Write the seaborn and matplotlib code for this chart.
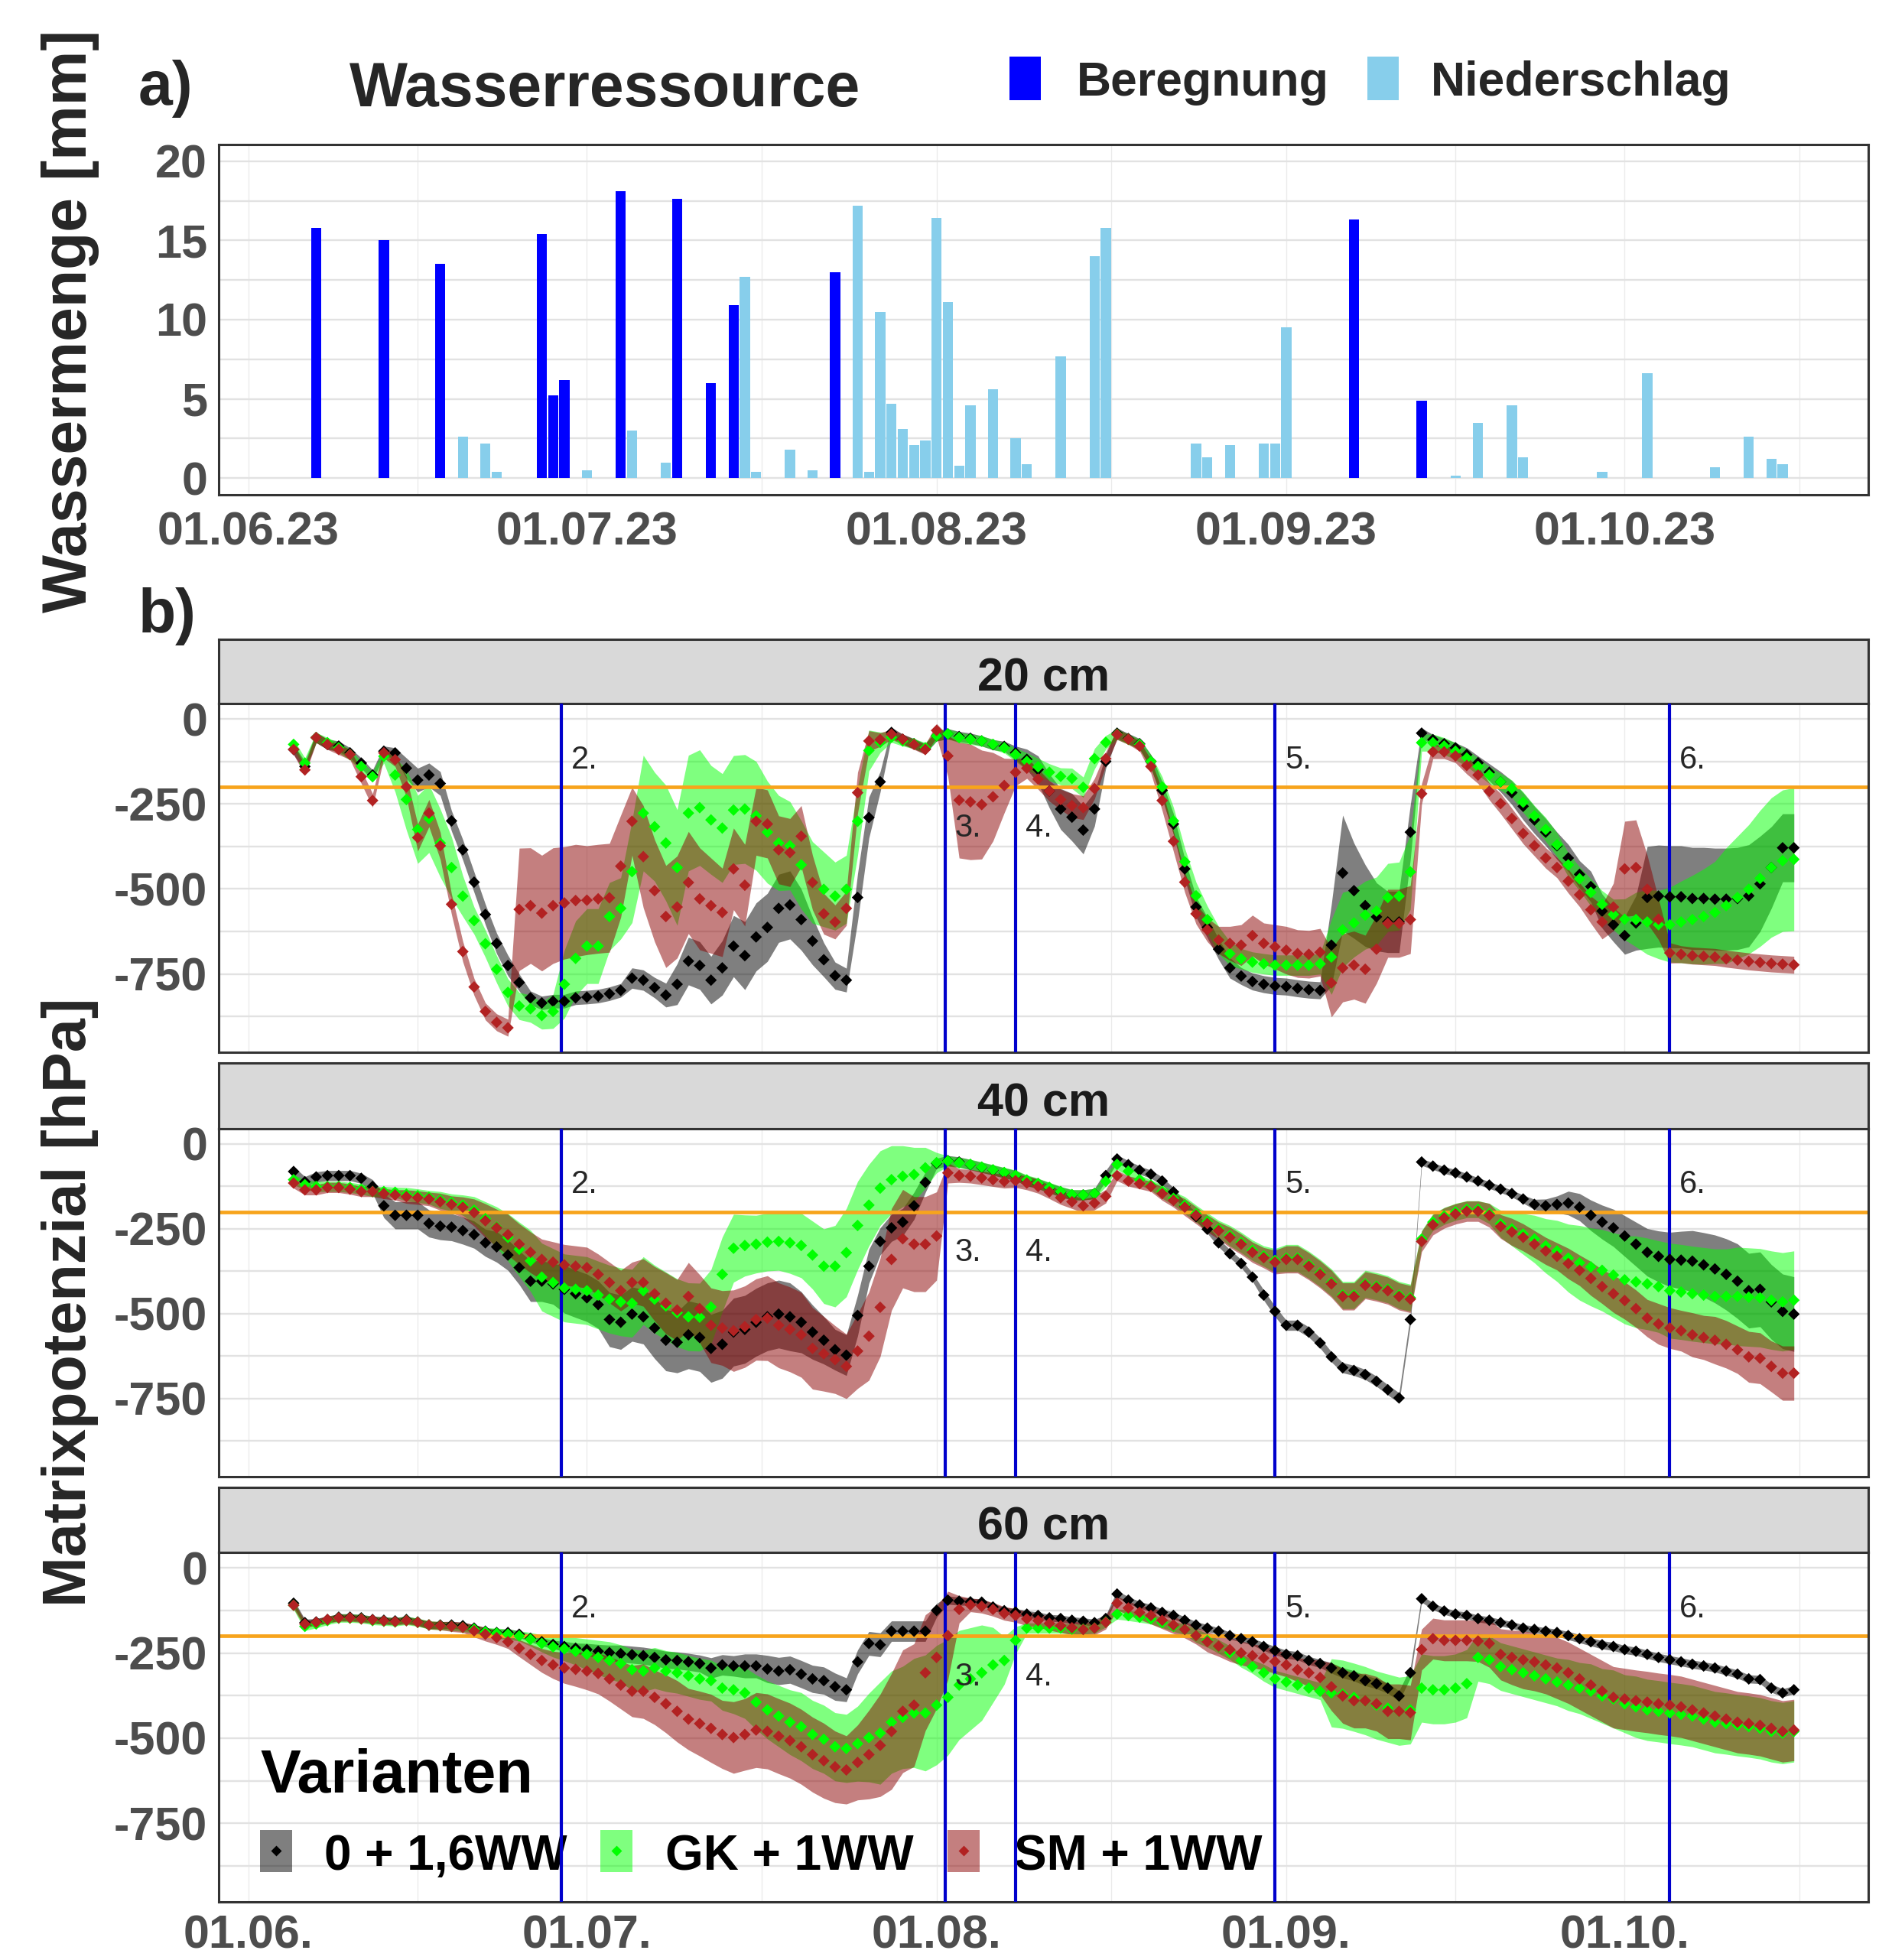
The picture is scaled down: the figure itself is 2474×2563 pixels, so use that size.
import numpy as np
import pandas as pd
import matplotlib
matplotlib.use("Agg")
import matplotlib.pyplot as plt
import matplotlib.dates as mdates
from matplotlib.patches import Rectangle
from matplotlib.lines import Line2D
import seaborn as sns

# ++++++++++++++++++++++++++++++++++++++++++++++++++++ a) Wasserressource [mm]
beregnung_dates = ["2023-06-07", "2023-06-13", "2023-06-18", "2023-06-27", "2023-06-28",
                   "2023-06-29", "2023-07-04", "2023-07-09", "2023-07-12", "2023-07-14",
                   "2023-07-23", "2023-09-07", "2023-09-13"]
beregnung_mm = [15.8, 15.0, 13.5, 15.4, 5.2, 6.2, 18.1, 17.6, 6.0, 10.9, 13.0, 16.3, 4.9]

niederschlag_dates = ["2023-06-20", "2023-06-22", "2023-06-23", "2023-07-01", "2023-07-05",
                      "2023-07-08", "2023-07-15", "2023-07-16", "2023-07-19", "2023-07-21",
                      "2023-07-25", "2023-07-26", "2023-07-27", "2023-07-28", "2023-07-29",
                      "2023-07-30", "2023-07-31", "2023-08-01", "2023-08-02", "2023-08-03",
                      "2023-08-04", "2023-08-06", "2023-08-08", "2023-08-09", "2023-08-12",
                      "2023-08-15", "2023-08-16", "2023-08-24", "2023-08-25", "2023-08-27",
                      "2023-08-30", "2023-08-31", "2023-09-01", "2023-09-16", "2023-09-18",
                      "2023-09-21", "2023-09-22", "2023-09-29", "2023-10-03", "2023-10-09",
                      "2023-10-12", "2023-10-14", "2023-10-15"]
niederschlag_mm = [2.6, 2.2, 0.4, 0.5, 3.0, 1.0, 12.7, 0.4, 1.8, 0.5,
                   17.2, 0.4, 10.5, 4.7, 3.1, 2.1, 2.4, 16.4, 11.1, 0.8,
                   4.6, 5.6, 2.5, 0.9, 7.7, 14.0, 15.8, 2.2, 1.3, 2.1,
                   2.2, 2.2, 9.5, 0.15, 3.5, 4.6, 1.3, 0.4, 6.6, 0.7,
                   2.6, 1.2, 0.9]

# ++++++++++++++++++++++++++++++++++++++++++++++++++++ b) Matrixpotenzial [hPa], 05.06. - 16.10.
days = pd.date_range("2023-06-05", "2023-10-16", freq="D")
variants = ["0 + 1,6WW", "GK + 1WW", "SM + 1WW"]
depths = ["20 cm", "40 cm", "60 cm"]

# 20 cm
b20 = [-90, -140, -55, -75, -80, -100, -130, -165, -95, -100,
       -145, -180, -165, -190, -300, -385, -480, -575, -660, -725,
       -775, -820, -835, -830, -830, -820, -818, -815, -808, -798,
       -762, -768, -790, -812, -780, -712, -725, -768, -732, -668,
       -696, -641, -613, -557, -547, -590, -653, -708, -755, -768,
       -525, -290, -185, -40, -60, -73, -88, -50, -44, -52,
       -57, -65, -76, -81, -100, -119, -149, -212, -265, -289,
       -327, -265, -125, -42, -58, -73, -125, -210, -309, -441,
       -553, -613, -677, -732, -756, -772, -780, -785, -787, -792,
       -796, -798, -665, -453, -505, -549, -582, -597, -597, -333,
       -42, -61, -73, -85, -105, -129, -157, -185, -217, -257,
       -297, -333, -373, -409, -457, -493, -565, -605, -637, -600,
       -525, -521, -523, -523, -528, -528, -530, -530, -528, -520,
       -485, -437, -379, -379]
sd_b20 = [15, 15, 15, 15, 15, 15, 15, 15, 15, 15,
          30, 35, 35, 35, 30, 30, 30, 30, 30, 30,
          25, 20, 20, 20, 20, 20, 20, 20, 20, 20,
          30, 30, 30, 35, 60, 70, 70, 70, 80, 90,
          100, 100, 100, 100, 100, 90, 70, 50, 40, 35,
          70, 60, 30, 15, 15, 15, 15, 15, 15, 15,
          15, 15, 15, 15, 20, 30, 40, 50, 60, 70,
          70, 50, 20, 15, 15, 15, 20, 25, 30, 30,
          30, 30, 30, 30, 25, 25, 25, 25, 25, 25,
          25, 25, 120, 170, 140, 120, 100, 90, 90, 80,
          15, 15, 15, 15, 20, 20, 25, 30, 35, 40,
          40, 40, 40, 40, 40, 45, 50, 50, 55, 80,
          150, 150, 150, 150, 150, 150, 150, 150, 150, 150,
          140, 120, 100, 100]
g20 = [-75, -130, -55, -70, -85, -105, -140, -170, -110, -165,
       -237, -325, -293, -365, -437, -521, -593, -661, -736, -804,
       -844, -852, -872, -860, -780, -704, -668, -668, -581, -557,
       -449, -277, -317, -365, -437, -277, -261, -297, -321, -268,
       -265, -285, -333, -365, -373, -429, -481, -501, -521, -501,
       -301, -93, -69, -54, -65, -73, -85, -50, -44, -55,
       -60, -65, -75, -85, -105, -125, -141, -157, -169, -175,
       -201, -117, -69, -45, -60, -75, -125, -200, -300, -420,
       -520, -590, -650, -690, -705, -715, -720, -724, -724, -724,
       -724, -720, -700, -620, -600, -577, -565, -525, -521, -450,
       -70, -70, -80, -95, -115, -140, -165, -185, -205, -245,
       -285, -325, -370, -429, -470, -510, -545, -575, -589, -590,
       -597, -605, -605, -597, -590, -581, -569, -549, -525, -501,
       -469, -437, -417, -413]
sd_g20 = [15, 15, 15, 15, 15, 15, 15, 15, 20, 50,
          90, 100, 100, 100, 90, 60, 40, 40, 40, 40,
          40, 40, 40, 50, 100, 110, 110, 110, 100, 90,
          150, 170, 160, 170, 170, 170, 170, 160, 160, 160,
          160, 160, 150, 140, 130, 130, 120, 110, 100, 100,
          100, 60, 30, 15, 15, 15, 15, 15, 15, 15,
          15, 15, 15, 15, 20, 25, 25, 25, 25, 30,
          30, 30, 20, 15, 15, 15, 20, 30, 40, 40,
          40, 40, 40, 35, 30, 30, 30, 30, 30, 30,
          30, 30, 110, 110, 100, 100, 100, 100, 100, 110,
          25, 25, 25, 25, 25, 25, 25, 25, 25, 30,
          30, 35, 35, 35, 35, 40, 40, 45, 60, 80,
          95, 100, 110, 120, 130, 140, 150, 170, 180, 190,
          200, 205, 208, 210]
r20 = [-90, -150, -55, -75, -90, -105, -170, -240, -100, -120,
       -200, -349, -277, -373, -545, -684, -788, -860, -892, -908,
       -560, -549, -571, -549, -541, -534, -533, -529, -526, -433,
       -301, -405, -505, -581, -553, -481, -529, -549, -569, -441,
       -489, -301, -309, -385, -393, -345, -481, -573, -597, -557,
       -217, -65, -61, -45, -60, -75, -90, -34, -109, -239,
       -244, -252, -229, -196, -157, -145, -177, -212, -237, -255,
       -261, -205, -117, -46, -60, -80, -140, -240, -360, -480,
       -573, -620, -650, -660, -665, -637, -660, -670, -680, -690,
       -692, -686, -776, -732, -724, -736, -677, -601, -601, -590,
       -220, -97, -97, -109, -137, -165, -213, -249, -293, -337,
       -373, -409, -437, -477, -517, -561, -597, -553, -441, -437,
       -501, -589, -688, -692, -696, -698, -700, -705, -709, -713,
       -716, -719, -721, -723]
sd_r20 = [15, 15, 15, 15, 15, 15, 20, 20, 15, 20,
          30, 40, 40, 40, 30, 30, 25, 25, 25, 25,
          180, 170, 170, 170, 165, 165, 160, 160, 160, 150,
          100, 150, 150, 150, 150, 150, 150, 140, 130, 120,
          120, 100, 100, 100, 100, 90, 80, 60, 50, 50,
          60, 30, 20, 15, 15, 15, 15, 20, 60, 170,
          170, 160, 130, 80, 40, 30, 30, 30, 30, 35,
          35, 30, 20, 15, 15, 15, 20, 30, 30, 30,
          30, 35, 40, 50, 60, 60, 60, 65, 70, 70,
          70, 70, 100, 100, 100, 100, 100, 100, 100, 100,
          30, 20, 20, 20, 25, 25, 25, 30, 30, 30,
          30, 30, 30, 35, 35, 40, 50, 70, 140, 140,
          100, 60, 30, 25, 25, 25, 25, 25, 25, 25,
          25, 25, 25, 25]

# 40 cm
b40 = [-81, -111, -97, -93, -93, -93, -101, -125, -182, -210,
       -210, -210, -234, -242, -245, -255, -267, -291, -303, -327,
       -364, -404, -404, -412, -428, -441, -453, -473, -517, -525,
       -501, -509, -542, -578, -584, -562, -570, -602, -590, -554,
       -546, -525, -509, -501, -509, -525, -554, -578, -606, -622,
       -505, -360, -287, -247, -230, -182, -113, -57, -49, -53,
       -61, -69, -77, -85, -93, -108, -117, -129, -141, -150,
       -150, -146, -93, -44, -61, -77, -89, -109, -141, -182,
       -214, -251, -291, -323, -352, -392, -445, -493, -534, -534,
       -554, -586, -627, -659, -667, -679, -699, -724, -748, -517,
       -53, -65, -77, -85, -97, -109, -121, -133, -146, -162,
       -178, -182, -178, -174, -186, -210, -230, -247, -271, -295,
       -319, -331, -340, -342, -345, -356, -368, -384, -404, -432,
       -428, -465, -493, -501]
sd_b40 = [15, 15, 15, 15, 15, 15, 15, 20, 35, 40,
          40, 40, 40, 40, 40, 40, 40, 40, 45, 45,
          50, 60, 60, 60, 70, 70, 70, 70, 80, 80,
          80, 80, 90, 90, 90, 100, 100, 100, 100, 100,
          100, 100, 100, 100, 100, 90, 80, 70, 60, 60,
          60, 50, 40, 40, 40, 40, 30, 15, 15, 15,
          15, 15, 15, 15, 15, 15, 15, 15, 15, 15,
          15, 15, 15, 12, 12, 12, 12, 12, 12, 12,
          12, 12, 12, 12, 12, 12, 15, 15, 15, 15,
          15, 15, 15, 15, 15, 15, 15, 15, 15, 15,
          10, 10, 10, 10, 10, 10, 10, 10, 10, 12,
          15, 20, 25, 35, 40, 45, 50, 55, 60, 65,
          70, 75, 80, 85, 90, 95, 100, 105, 110, 110,
          110, 110, 110, 110]
g40 = [-105, -120, -125, -125, -125, -128, -133, -140, -140, -142,
       -148, -152, -157, -165, -172, -180, -195, -220, -245, -275,
       -310, -344, -392, -408, -424, -428, -432, -445, -457, -465,
       -469, -432, -457, -477, -497, -509, -510, -480, -384, -307,
       -299, -295, -289, -287, -291, -299, -327, -360, -360, -320,
       -240, -180, -130, -105, -95, -90, -70, -55, -50, -55,
       -60, -68, -76, -84, -92, -106, -116, -128, -140, -149,
       -150, -146, -110, -60, -80, -105, -121, -140, -160, -180,
       -205, -228, -250, -270, -290, -313, -330, -343, -336, -336,
       -356, -380, -408, -445, -445, -412, -419, -428, -445, -453,
       -280, -230, -212, -200, -192, -192, -205, -235, -250, -265,
       -280, -300, -315, -336, -350, -362, -372, -386, -400, -406,
       -412, -420, -432, -436, -441, -445, -449, -449, -449, -451,
       -453, -460, -465, -460]
sd_g40 = [15, 15, 15, 15, 15, 15, 15, 15, 15, 15,
          20, 20, 20, 25, 25, 30, 40, 50, 60, 70,
          80, 90, 100, 100, 100, 100, 100, 100, 100, 100,
          100, 100, 100, 100, 100, 100, 100, 110, 110, 100,
          90, 85, 85, 85, 90, 95, 100, 110, 120, 130,
          130, 120, 110, 100, 90, 80, 60, 30, 15, 15,
          15, 15, 15, 15, 15, 15, 15, 15, 15, 15,
          15, 15, 15, 15, 15, 15, 15, 20, 20, 25,
          25, 25, 25, 30, 30, 30, 30, 35, 40, 40,
          40, 40, 40, 40, 40, 40, 40, 40, 40, 40,
          25, 25, 25, 25, 25, 25, 30, 40, 50, 60,
          70, 80, 90, 100, 110, 115, 120, 125, 130, 135,
          135, 135, 140, 140, 140, 140, 140, 140, 145, 145,
          145, 145, 145, 145]
r40 = [-115, -135, -135, -128, -128, -133, -140, -140, -146, -150,
       -155, -158, -162, -170, -178, -186, -202, -226, -247, -267,
       -295, -319, -340, -348, -356, -360, -364, -384, -408, -432,
       -408, -408, -441, -469, -489, -449, -485, -534, -542, -550,
       -538, -517, -513, -534, -546, -562, -602, -618, -635, -655,
       -610, -566, -481, -340, -279, -295, -295, -271, -85, -93,
       -95, -100, -105, -110, -108, -115, -125, -141, -158, -170,
       -182, -174, -154, -93, -109, -117, -125, -146, -166, -186,
       -210, -234, -255, -275, -295, -319, -335, -348, -340, -340,
       -360, -384, -412, -449, -449, -416, -423, -432, -449, -457,
       -287, -238, -218, -206, -198, -198, -210, -243, -259, -275,
       -295, -315, -331, -352, -372, -396, -420, -441, -461, -485,
       -513, -530, -542, -550, -562, -570, -578, -590, -606, -627,
       -631, -655, -675, -675]
sd_r40 = [15, 15, 15, 15, 15, 15, 15, 15, 15, 15,
          20, 20, 20, 25, 25, 30, 40, 50, 55, 60,
          60, 60, 60, 60, 60, 60, 60, 60, 60, 60,
          60, 70, 80, 90, 90, 100, 100, 110, 110, 120,
          120, 120, 125, 125, 125, 125, 120, 110, 100, 95,
          110, 130, 145, 150, 145, 140, 140, 130, 30, 20,
          20, 20, 20, 20, 20, 20, 20, 20, 20, 20,
          20, 20, 20, 15, 15, 15, 15, 20, 20, 25,
          25, 25, 25, 30, 30, 30, 30, 35, 40, 40,
          40, 40, 40, 40, 40, 40, 40, 40, 40, 40,
          30, 30, 30, 30, 30, 30, 35, 35, 40, 40,
          40, 40, 40, 45, 45, 50, 50, 55, 55, 55,
          55, 60, 60, 60, 65, 65, 70, 70, 70, 75,
          75, 75, 80, 80]

# 60 cm
b60 = [-104, -161, -159, -152, -145, -145, -147, -152, -154, -156,
       -152, -159, -168, -168, -168, -170, -177, -186, -190, -190,
       -195, -207, -217, -225, -231, -236, -240, -245, -249, -252,
       -255, -258, -263, -270, -272, -276, -281, -294, -285, -288,
       -288, -288, -297, -303, -299, -312, -326, -331, -349, -358,
       -276, -222, -226, -186, -186, -186, -186, -125, -95, -98,
       -100, -101, -115, -126, -130, -136, -140, -147, -149, -154,
       -157, -161, -149, -77, -95, -109, -118, -131, -140, -154,
       -168, -177, -186, -199, -208, -217, -231, -243, -254, -258,
       -272, -281, -294, -308, -317, -331, -340, -353, -376, -308,
       -91, -113, -127, -136, -140, -149, -154, -161, -168, -177,
       -181, -186, -190, -199, -208, -217, -226, -231, -240, -245,
       -254, -263, -270, -276, -283, -288, -294, -303, -312, -326,
       -328, -353, -367, -358]
sd_b60 = [10, 10, 10, 10, 10, 10, 10, 10, 10, 10,
          10, 10, 10, 10, 10, 10, 10, 10, 10, 10,
          10, 10, 12, 12, 15, 15, 18, 20, 22, 25,
          25, 25, 25, 25, 25, 25, 25, 30, 30, 30,
          35, 35, 40, 40, 40, 40, 40, 40, 40, 35,
          35, 35, 35, 30, 30, 30, 30, 20, 12, 12,
          10, 10, 10, 10, 10, 10, 10, 10, 10, 10,
          10, 10, 10, 10, 10, 10, 10, 10, 10, 10,
          10, 10, 10, 10, 10, 10, 12, 12, 12, 12,
          12, 12, 15, 15, 15, 15, 15, 15, 15, 15,
          10, 10, 10, 10, 10, 10, 10, 10, 10, 10,
          10, 10, 10, 12, 12, 12, 12, 12, 12, 12,
          12, 12, 12, 12, 12, 12, 12, 12, 12, 12,
          12, 12, 12, 12]
g60 = [-110, -172, -165, -155, -148, -148, -150, -155, -157, -159,
       -155, -160, -168, -170, -172, -175, -180, -188, -192, -195,
       -200, -210, -222, -232, -238, -245, -254, -263, -272, -281,
       -299, -303, -294, -303, -308, -317, -326, -331, -353, -358,
       -367, -394, -417, -435, -453, -466, -489, -503, -525, -530,
       -516, -498, -485, -453, -439, -426, -426, -403, -380, -344,
       -326, -308, -285, -272, -213, -177, -177, -177, -177, -180,
       -180, -177, -159, -136, -140, -145, -150, -161, -172, -181,
       -199, -213, -231, -249, -272, -290, -308, -326, -335, -344,
       -353, -362, -367, -371, -380, -390, -403, -412, -421, -417,
       -353, -358, -358, -353, -340, -263, -270, -290, -299, -308,
       -317, -326, -335, -344, -353, -362, -376, -385, -399, -408,
       -417, -421, -426, -430, -435, -444, -453, -457, -462, -466,
       -471, -480, -485, -480]
sd_g60 = [12, 12, 12, 12, 12, 12, 12, 12, 12, 12,
          12, 12, 12, 12, 12, 12, 12, 12, 15, 15,
          15, 20, 25, 30, 35, 40, 45, 50, 55, 55,
          60, 60, 60, 60, 60, 60, 60, 60, 65, 70,
          75, 80, 85, 90, 95, 100, 100, 100, 100, 100,
          110, 130, 150, 150, 150, 160, 170, 175, 170, 160,
          150, 140, 110, 70, 40, 15, 15, 15, 15, 15,
          15, 15, 15, 15, 15, 15, 15, 15, 15, 15,
          20, 20, 20, 20, 20, 20, 25, 25, 25, 25,
          25, 25, 100, 100, 100, 100, 100, 100, 100, 100,
          100, 100, 100, 100, 100, 70, 70, 70, 70, 70,
          70, 70, 70, 75, 75, 80, 80, 85, 85, 90,
          90, 90, 90, 90, 90, 90, 90, 90, 90, 90,
          90, 90, 90, 90]
r60 = [-110, -165, -160, -152, -147, -147, -150, -153, -156, -158,
       -155, -160, -168, -170, -172, -175, -185, -195, -205, -217,
       -236, -254, -272, -285, -294, -298, -303, -310, -326, -344,
       -362, -362, -380, -399, -421, -444, -457, -471, -489, -498,
       -489, -476, -480, -494, -507, -525, -548, -566, -584, -593,
       -571, -548, -521, -480, -421, -403, -308, -263, -199, -122,
       -109, -113, -122, -134, -140, -150, -155, -163, -170, -176,
       -181, -177, -160, -104, -118, -131, -140, -154, -168, -181,
       -199, -217, -230, -240, -250, -258, -265, -275, -285, -299,
       -308, -322, -349, -376, -390, -390, -399, -421, -421, -425,
       -240, -208, -213, -213, -213, -215, -222, -254, -263, -270,
       -276, -285, -294, -308, -326, -344, -362, -380, -385, -390,
       -394, -399, -403, -408, -417, -426, -435, -444, -453, -457,
       -462, -471, -480, -476]
sd_r60 = [10, 10, 10, 10, 10, 10, 10, 10, 10, 10,
          10, 10, 12, 12, 15, 15, 18, 20, 20, 20,
          25, 30, 35, 40, 45, 50, 55, 60, 65, 70,
          75, 80, 80, 85, 90, 90, 95, 100, 100, 105,
          105, 110, 110, 110, 110, 110, 110, 110, 105, 100,
          110, 130, 150, 170, 180, 180, 170, 150, 130, 40,
          20, 20, 20, 20, 20, 20, 20, 20, 20, 20,
          20, 20, 20, 20, 20, 20, 25, 25, 25, 25,
          25, 30, 30, 35, 35, 35, 35, 35, 35, 35,
          40, 50, 70, 80, 80, 80, 80, 80, 80, 80,
          60, 60, 60, 60, 60, 60, 70, 75, 80, 85,
          85, 85, 90, 90, 90, 90, 90, 90, 90, 90,
          90, 90, 90, 90, 90, 90, 90, 90, 90, 90,
          90, 90, 90, 90]

# Bewässerungstermine (Linien) und Beschriftung
event_times = ["2023-06-28 17:00", "2023-08-01 18:00", "2023-08-08 00:00",
               "2023-08-31 00:00", "2023-10-05 00:00"]
event_labels = ["2.", "3.", "4.", "5.", "6."]
event_label_y = [-145, -345, -345, -145, -145]
threshold = -200

series = {
    "20 cm": [(b20, sd_b20), (g20, sd_g20), (r20, sd_r20)],
    "40 cm": [(b40, sd_b40), (g40, sd_g40), (r40, sd_r40)],
    "60 cm": [(b60, sd_b60), (g60, sd_g60), (r60, sd_r60)],
}
for d in depths:
    for m, s in series[d]:
        assert len(m) == len(days) and len(s) == len(days), (d, len(m), len(s))

ribbon_col = {"0 + 1,6WW": "#000000", "GK + 1WW": "#00FF00", "SM + 1WW": "#8B0000"}
point_col = {"0 + 1,6WW": "#000000", "GK + 1WW": "#00FF00", "SM + 1WW": "#B22222"}

# ++++++++++++++++++++++++++++++++++++++++++++++++++++ Plot
sns.set_theme(style="white")
plt.rcParams["font.family"] = ["Liberation Sans", "DejaVu Sans"]
plt.rcParams["font.weight"] = "bold"
plt.rcParams["axes.unicode_minus"] = False

W, H, DPI = 2474, 2563, 200
fig = plt.figure(figsize=(W / DPI, H / DPI), dpi=DPI)


def rect(l, t, r, b):
    return [l / W, 1 - b / H, (r - l) / W, (b - t) / H]


X0 = pd.Timestamp("2023-05-29 08:40")
X1 = pd.Timestamp("2023-10-22 14:20")
month_ticks = pd.to_datetime(["2023-06-01 00:00", "2023-07-01 00:00", "2023-08-01 00:00",
                              "2023-09-01 00:00", "2023-10-01 00:00"])
mid_ticks = pd.to_datetime(["2023-06-16 00:00", "2023-07-16 12:00", "2023-08-16 12:00",
                            "2023-09-16 00:00", "2023-10-16 12:00"])


def style(ax, yticks, yminor, ylim, xpad):
    ax.set_xlim(X0, X1)
    ax.set_ylim(*ylim)
    ax.set_xticks(month_ticks)
    ax.set_xticks(mid_ticks, minor=True)
    ax.set_yticks(yticks)
    ax.set_yticklabels([f"{v:g}" for v in yticks])
    ax.set_yticks(yminor, minor=True)
    ax.set_axisbelow(True)
    ax.grid(which="both", axis="y", color="#E2E2E2", lw=0.85)
    ax.grid(which="both", axis="x", color="#EBEBEB", lw=0.5)
    ax.tick_params(which="major", length=2.9, width=0.9, color="#333333",
                   labelsize=22, labelcolor="#4D4D4D")
    ax.tick_params(axis="x", pad=xpad)
    ax.tick_params(axis="y", pad=2.5)
    ax.tick_params(which="minor", length=0)
    for sp in ax.spines.values():
        sp.set_color("#333333")
        sp.set_linewidth(1.1)
    ax.set_xlabel("")
    ax.set_ylabel("")


# a) Wasserressource
ax0 = fig.add_axes(rect(286, 189, 2443, 647))
ax0.bar(pd.to_datetime(niederschlag_dates), niederschlag_mm, width=0.9, color="#87CEEB", lw=0)
ax0.bar(pd.to_datetime(beregnung_dates), beregnung_mm, width=0.9, color="#0000FF", lw=0)
style(ax0, [0, 5, 10, 15, 20], [2.5, 7.5, 12.5, 17.5], (-1.05, 21.05), 4.7)
ax0.xaxis.set_major_formatter(mdates.DateFormatter("%d.%m.%y"))

# b) Matrixpotenzial
boxes = [(836, 920, 1376), (1390, 1476, 1931), (1945, 2030, 2487)]
axes = []
for i, (depth, (st, top, bot)) in enumerate(zip(depths, boxes)):
    sax = fig.add_axes(rect(286, st, 2443, top))
    sax.set_facecolor("#D9D9D9")
    sax.set_xticks([])
    sax.set_yticks([])
    for sp in sax.spines.values():
        sp.set_color("#333333")
        sp.set_linewidth(1.1)
    sax.text(0.5, 0.195, depth, transform=sax.transAxes, ha="center", va="baseline",
             fontsize=22, color="#1A1A1A")

    ax = fig.add_axes(rect(286, top, 2443, bot))
    frames = []
    for v, (m, s) in zip(variants, series[depth]):
        m = np.asarray(m, float)
        s = np.asarray(s, float)
        ax.fill_between(days, m - s, m + s, color=ribbon_col[v], alpha=0.5, lw=0, zorder=2)
        frames.append(pd.DataFrame({"date": days, "value": m, "variant": v}))
    df = pd.concat(frames, ignore_index=True)

    ax.axhline(threshold, color="#F7A41C", lw=1.7, zorder=2.5)
    for t, lab, yv in zip(event_times, event_labels, event_label_y):
        t = pd.Timestamp(t)
        ax.axvline(t, color="#0000CC", lw=1.5, zorder=2.6)
        ax.text(t + pd.Timedelta(hours=21), yv, lab, ha="left", va="baseline",
                fontsize=15, fontweight="normal", color="#262626", zorder=4)

    sns.scatterplot(data=df, x="date", y="value", hue="variant", hue_order=variants,
                    palette=point_col, marker="D", s=15, linewidth=0, legend=False,
                    ax=ax, zorder=3)
    style(ax, [0, -250, -500, -750], [-125, -375, -625, -875], (-980, 45), 2.9)
    if i < 2:
        ax.tick_params(axis="x", which="both", length=0, labelbottom=False)
    else:
        ax.xaxis.set_major_formatter(mdates.DateFormatter("%d.%m."))
    axes.append(ax)

# Legende "Varianten" im unteren Panel
ax3 = axes[2]
ax3.text(340 / W, 1 - 2344 / H, "Varianten", transform=fig.transFigure, fontsize=28.5,
         ha="left", va="baseline", color="black", zorder=2.55)
for v, kx, tx in zip(variants, [340, 785, 1239], [424, 870, 1326]):
    ax3.add_patch(Rectangle((kx / W, 1 - 2448 / H), 42 / W, 55 / H, transform=fig.transFigure,
                            facecolor=ribbon_col[v], alpha=0.5, lw=0, clip_on=False, zorder=2.55))
    ax3.add_line(Line2D([(kx + 21) / W], [1 - 2420 / H], marker="D", ms=2.7, color=point_col[v],
                        lw=0, transform=fig.transFigure, clip_on=False, zorder=2.56))
    ax3.text(tx / W, 1 - 2445 / H, v, transform=fig.transFigure, fontsize=23,
             ha="left", va="baseline", color="black", zorder=2.55)

# Titel, Legende oben, Achsenbeschriftung
fig.text(181 / W, 1 - 137 / H, "a)", fontsize=29, ha="left", va="baseline")
fig.text(457 / W, 1 - 139 / H, "Wasserressource", fontsize=29, ha="left", va="baseline")
fig.text(181 / W, 1 - 827 / H, "b)", fontsize=29, ha="left", va="baseline")
for lab, col, kx, tx in [("Beregnung", "#0000FF", 1320, 1408), ("Niederschlag", "#87CEEB", 1788, 1871)]:
    fig.add_artist(Rectangle((kx / W, 1 - 131 / H), 41 / W, 57 / H, transform=fig.transFigure,
                             facecolor=col, lw=0))
    fig.text(tx / W, 1 - 125 / H, lab, fontsize=22.5, ha="left", va="baseline")
fig.text(92 / W, 1 - 420 / H, "Wassermenge [mm]", rotation=90, fontsize=29,
         ha="center", va="center")
fig.text(92 / W, 1 - 1703 / H, "Matrixpotenzial [hPa]", rotation=90, fontsize=28.5,
         ha="center", va="center")

fig.savefig("out.png", dpi=DPI)
plt.close()
